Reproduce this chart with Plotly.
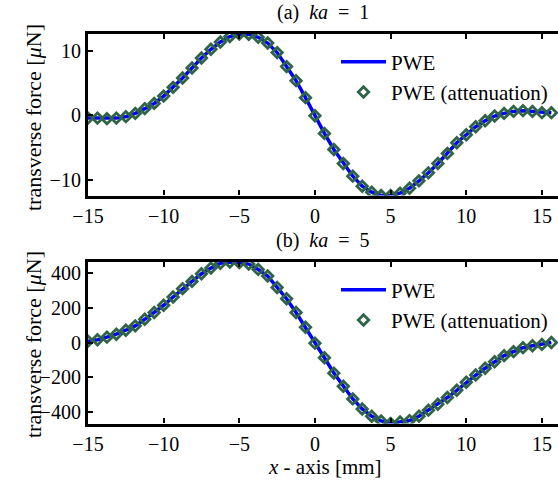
import plotly.graph_objects as go

# x positions of samples [mm]
x_mm = [-15.0, -14.375, -13.75, -13.125, -12.5, -11.875, -11.25, -10.625, -10.0, -9.375,
        -8.75, -8.125, -7.5, -6.875, -6.25, -5.625, -5.0, -4.375, -3.75, -3.125,
        -2.5, -1.875, -1.25, -0.625, 0.0, 0.625, 1.25, 1.875, 2.5, 3.125,
        3.75, 4.375, 5.0, 5.625, 6.25, 6.875, 7.5, 8.125, 8.75, 9.375,
        10.0, 10.625, 11.25, 11.875, 12.5, 13.125, 13.75, 14.375, 15.0, 15.625]

# (a) ka = 1, transverse force [uN]
force_ka1 = [-0.42, -0.42, -0.5, -0.42, -0.2, 0.31, 1.04, 1.85, 2.98, 4.33,
             5.77, 7.31, 8.86, 10.2, 11.33, 12.16, 12.56, 12.5, 12.06, 11.17,
             9.69, 7.53, 5.36, 2.74, -0.05, -2.78, -5.26, -7.42, -9.38, -10.93,
             -11.85, -12.36, -12.36, -12.0, -11.24, -10.1, -8.86, -7.42, -5.87, -4.22,
             -2.98, -1.75, -0.82, -0.1, 0.31, 0.62, 0.73, 0.62, 0.42, 0.42]

# (b) ka = 5, transverse force [uN]
force_ka5 = [8.6, 16.7, 31.7, 48.9, 71.9, 97, 135, 174, 216, 264,
             312, 354, 398, 431, 458, 466, 462, 454, 423, 385,
             319, 254, 174, 89, -3, -87, -176, -252, -325, -383,
             -425, -452, -467, -458, -450, -425, -390, -356, -317, -275,
             -229, -187, -148, -110, -75, -52, -29, -18, -10, 1]

x_ticks = [-15, -10, -5, 0, 5, 10, 15]
y_ticks_a = [-10, 0, 10]
y_ticks_b = [-400, -200, 0, 200, 400]

W, H = 558, 482
BLUE = "#0000FF"
GREEN = "#2F6446"
FONT = "Times New Roman, Liberation Serif, serif"

fig = go.Figure()

for i, (yv, lg) in enumerate([(force_ka1, "legend"), (force_ka5, "legend2")]):
    xa = "x" if i == 0 else "x2"
    ya = "y" if i == 0 else "y2"
    fig.add_trace(go.Scatter(x=x_mm, y=yv, mode="lines", name="PWE",
                             line=dict(color=BLUE, width=3.5),
                             xaxis=xa, yaxis=ya, legend=lg))
    fig.add_trace(go.Scatter(x=x_mm, y=yv, mode="markers", name="PWE (attenuation)",
                             marker=dict(symbol="diamond-open", size=8,
                                         color=GREEN, line=dict(color=GREEN, width=2.8)),
                             xaxis=xa, yaxis=ya, legend=lg))

x_left = 88 / W
xr = [-15, -15 + (W - 88) / 15.13]

def px_y(p):
    return 1 - p / H

axis_common = dict(showline=True, linecolor="black", linewidth=3.2,
                   ticks="inside", ticklen=5, tickwidth=2, tickcolor="black",
                   showgrid=False, zeroline=False,
                   tickfont=dict(family=FONT, size=20, color="black"),
                   automargin=False)

leg_font = dict(family=FONT, size=21, color="black")
fig.update_layout(
    width=W, height=H,
    margin=dict(l=0, r=0, t=0, b=0),
    paper_bgcolor="white", plot_bgcolor="white",
    font=dict(family=FONT, size=20, color="black"),
    xaxis=dict(domain=[x_left, 1], range=xr, anchor="y", tickvals=x_ticks,
               mirror="ticks", **axis_common),
    yaxis=dict(domain=[px_y(195.5), px_y(34)], range=[min(force_ka1), max(force_ka1)],
               anchor="x", tickvals=y_ticks_a, mirror=False, **axis_common),
    xaxis2=dict(domain=[x_left, 1], range=xr, anchor="y2", tickvals=x_ticks,
                mirror="ticks", **axis_common),
    yaxis2=dict(domain=[px_y(423.5), px_y(262)], range=[min(force_ka5), max(force_ka5)],
                anchor="x2", tickvals=y_ticks_b, mirror=False, **axis_common),
    legend=dict(x=336 / W, y=px_y(41.5), xanchor="left", yanchor="top",
                bgcolor="rgba(0,0,0,0)", borderwidth=0, itemwidth=45,
                font=leg_font, tracegroupgap=0),
    legend2=dict(x=336 / W, y=px_y(269.5), xanchor="left", yanchor="top",
                 bgcolor="rgba(0,0,0,0)", borderwidth=0, itemwidth=45,
                 font=leg_font, tracegroupgap=0),
    showlegend=True,
)

def add_text(xp, yp, text, size, angle=0):
    fig.add_annotation(x=xp / W, y=px_y(yp), xref="paper", yref="paper",
                       xanchor="center", yanchor="middle", text=text,
                       textangle=angle, showarrow=False,
                       font=dict(family=FONT, size=size, color="black"))

add_text(323, 12, "(a)  <i>ka</i>  =  1", 20)
add_text(323, 240, "(b)  <i>ka</i>  =  5", 20)
add_text(325, 467, "<i>x</i> - axis [mm]", 21)
add_text(33, 118, "transverse force [<i>μ</i>N]", 22, -90)
add_text(33, 345, "transverse force [<i>μ</i>N]", 22, -90)

fig.write_html("out.html",
               config={"displayModeBar": False},
               post_script="document.body.style.margin='0';"
                           "document.body.style.overflow='hidden';")
